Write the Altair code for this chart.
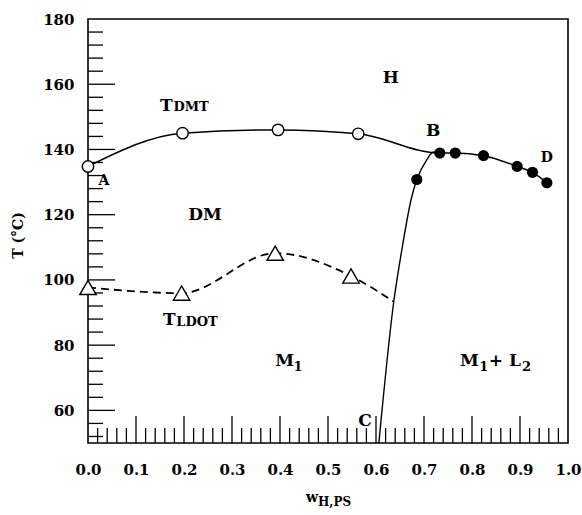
import altair as alt
import pandas as pd

# ---------------- data ----------------
# T_DMT (open circles)
dmt_x = [0.0, 0.197, 0.396, 0.563]
dmt_y = [134.8, 145.0, 146.0, 144.8]
# filled circles (M1+L2 boundary / B-D branch)
fill_x = [0.685, 0.733, 0.765, 0.824, 0.894, 0.926, 0.956]
fill_y = [130.8, 138.9, 138.9, 138.1, 134.8, 133.0, 129.8]
# T_LDOT (open triangles)
ldot_x = [0.0, 0.195, 0.390, 0.548]
ldot_y = [97.7, 95.95, 108.2, 101.2]
ldot_end_x = [0.637]
ldot_end_y = [93.3]
# C-B boundary curve
cb_x = [0.606, 0.637, 0.654, 0.674, 0.685, 0.706, 0.719, 0.729]
cb_y = [50.0, 93.3, 109.4, 125.2, 130.8, 136.9, 139.2, 139.3]

# axis tick values
x_labels = [0.0, 0.1, 0.2, 0.3, 0.4, 0.5, 0.6, 0.7, 0.8, 0.9, 1.0]
x_major = [0.1, 0.2, 0.3, 0.4, 0.5, 0.6, 0.7, 0.8, 0.9]
x_minor = [round(i * 0.02, 2) for i in range(1, 50) if i % 5 != 0]
y_labels = [60, 80, 100, 120, 140, 160, 180]
y_major = [60, 80, 100, 120, 140, 160]
y_minor = [v for v in range(52, 180, 4) if v % 20 != 0]

# region / point labels
big_text = ["H", "B", "DM", "C"]
big_x = [0.631, 0.719, 0.244, 0.577]
big_y = [161.9, 145.7, 119.8, 56.6]
small_text = ["A", "D"]
small_x = [0.033, 0.956]
small_y = [130.2, 137.5]

# composite labels: main part and subscript part
main_text = ["T", "T", "M", "M", "+ L"]
main_x = [0.150, 0.156, 0.390, 0.775, 0.835]
main_y = [151.8, 86.3, 73.7, 73.7, 73.7]
sub_text = ["DMT", "LDOT", "1", "1", "2"]
sub_x = [0.178, 0.184, 0.428, 0.815, 0.904]
sub_y = [151.8, 86.0, 72.2, 72.2, 72.2]

# ---------------- style ----------------
FONT = "DejaVu Serif"
W, H = 480, 424

xscale = alt.Scale(domain=[0, 1], nice=False, zero=False)
yscale = alt.Scale(domain=[50, 180], nice=False, zero=False)

xaxis = alt.Axis(values=x_labels, format=".1f", ticks=False, domain=False, grid=False,
                 labelFont=FONT, labelFontSize=15, labelFontWeight="bold",
                 labelPadding=19, labelFlush=False, labelOverlap=False,
                 labelColor="black", title=None)
yaxis = alt.Axis(values=y_labels, format="d", ticks=False, domain=False, grid=False,
                 labelFont=FONT, labelFontSize=15, labelFontWeight="bold",
                 labelPadding=14, labelFlush=False, labelOverlap=False,
                 labelColor="black",
                 title="T (°C)", titleFont=FONT, titleFontSize=14, titleFontWeight="bold",
                 titleX=-70, titleY=216, titleAngle=-90, titleAlign="center",
                 titleBaseline="middle", titleColor="black")


def X(f="x"):
    return alt.X(f"{f}:Q", scale=xscale, axis=xaxis)


def Y(f="y"):
    return alt.Y(f"{f}:Q", scale=yscale, axis=yaxis)


# ---------------- layers ----------------
line_df = pd.DataFrame({"x": dmt_x + fill_x[1:], "y": dmt_y + fill_y[1:]})
dmt_line = alt.Chart(line_df).mark_line(color="black", strokeWidth=1.5,
                                        interpolate="monotone").encode(x=X(), y=Y())

ldot_df = pd.DataFrame({"x": ldot_x + ldot_end_x, "y": ldot_y + ldot_end_y})
ldot_line = alt.Chart(ldot_df).mark_line(color="black", strokeWidth=1.8, strokeDash=[8, 5],
                                         interpolate="monotone").encode(x=X(), y=Y())

cb_df = pd.DataFrame({"x": cb_x, "y": cb_y})
cb_line = alt.Chart(cb_df).mark_line(color="black", strokeWidth=1.4,
                                     interpolate="monotone").encode(x=X(), y=Y())

open_pts = alt.Chart(pd.DataFrame({"x": dmt_x, "y": dmt_y})).mark_point(
    shape="circle", size=130, filled=True, fill="white", stroke="black", strokeWidth=1.4,
    opacity=1).encode(x=X(), y=Y())

fill_pts = alt.Chart(pd.DataFrame({"x": fill_x, "y": fill_y})).mark_point(
    shape="circle", size=125, filled=True, color="black", opacity=1).encode(x=X(), y=Y())

tri_pts = alt.Chart(pd.DataFrame({"x": ldot_x, "y": ldot_y})).mark_point(
    shape="triangle-up", size=270, filled=True, fill="white", stroke="black", strokeWidth=1.4,
    opacity=1).encode(x=X(), y=Y())

# inward ticks
xmaj = alt.Chart(pd.DataFrame({"t": x_major})).mark_rule(color="black", strokeWidth=1.3).encode(
    x=X("t"), y=alt.value(H), y2=alt.value(H - 27))
xmin = alt.Chart(pd.DataFrame({"t": x_minor})).mark_rule(color="black", strokeWidth=1.3).encode(
    x=X("t"), y=alt.value(H), y2=alt.value(H - 15))
ymaj = alt.Chart(pd.DataFrame({"t": y_major})).mark_rule(color="black", strokeWidth=1.3).encode(
    y=Y("t"), x=alt.value(0), x2=alt.value(27))
ymin = alt.Chart(pd.DataFrame({"t": y_minor})).mark_rule(color="black", strokeWidth=1.3).encode(
    y=Y("t"), x=alt.value(0), x2=alt.value(15))

big_lbl = alt.Chart(pd.DataFrame({"x": big_x, "y": big_y, "t": big_text})).mark_text(
    font=FONT, fontSize=17, fontWeight="bold", color="black", align="center",
    baseline="middle").encode(x=X(), y=Y(), text="t:N")
small_lbl = alt.Chart(pd.DataFrame({"x": small_x, "y": small_y, "t": small_text})).mark_text(
    font=FONT, fontSize=14, fontWeight="bold", color="black", align="center",
    baseline="middle").encode(x=X(), y=Y(), text="t:N")
main_lbl = alt.Chart(pd.DataFrame({"x": main_x, "y": main_y, "t": main_text})).mark_text(
    font=FONT, fontSize=17, fontWeight="bold", color="black", align="left",
    baseline="alphabetic").encode(x=X(), y=Y(), text="t:N")
sub_lbl = alt.Chart(pd.DataFrame({"x": sub_x, "y": sub_y, "t": sub_text})).mark_text(
    font=FONT, fontSize=13, fontWeight="bold", color="black", align="left",
    baseline="alphabetic").encode(x=X(), y=Y(), text="t:N")

# x-axis title "w" with subscript "H,PS"
xt_main = alt.Chart(pd.DataFrame({"t": ["w"]})).mark_text(
    font=FONT, fontSize=14, fontWeight="bold", color="black", align="left",
    baseline="alphabetic").encode(x=alt.value(218), y=alt.value(483), text="t:N")
xt_sub = alt.Chart(pd.DataFrame({"t": ["H,PS"]})).mark_text(
    font=FONT, fontSize=12, fontWeight="bold", color="black", align="left",
    baseline="alphabetic").encode(x=alt.value(230), y=alt.value(487), text="t:N")

chart = alt.layer(
    xmin, xmaj, ymin, ymaj,
    ldot_line, cb_line, dmt_line,
    open_pts, fill_pts, tri_pts,
    big_lbl, small_lbl, main_lbl, sub_lbl, xt_main, xt_sub,
).properties(
    width=W, height=H,
    autosize=alt.AutoSizeParams(type="none"),
    padding={"left": 88, "top": 19, "right": 14, "bottom": 72},
    background="white",
).configure_view(stroke="black", strokeWidth=1.6)

chart.save("out.html", embed_options={"renderer": "svg", "actions": False})
